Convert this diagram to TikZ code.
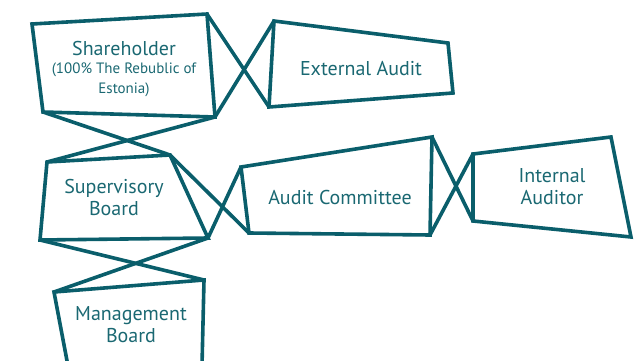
\documentclass[tikz,border=0pt]{standalone}
\usepackage{fontspec}
\setmainfont{PT Sans}
\definecolor{teal}{RGB}{10,94,107}
\definecolor{tealtext}{RGB}{26,104,114}

\begin{document}
\begin{tikzpicture}[x=1pt, y=-1pt,
  box/.style={draw=teal, line width=3.6pt, line join=miter},
  link/.style={draw=teal, line width=3.6pt},
  label/.style={text=tealtext, align=center, font=\fontsize{20}{22}\selectfont},
  note/.style={font=\fontsize{15}{20}\selectfont}]

\useasboundingbox (0,0) rectangle (637,361);
\clip (0,0) rectangle (637,361);

\coordinate (sh1) at (32,24);
\coordinate (sh2) at (207,14);
\coordinate (sh3) at (215,117);
\coordinate (sh4) at (43,112);
\coordinate (ea1) at (274,21);
\coordinate (ea2) at (448,43);
\coordinate (ea3) at (453,93);
\coordinate (ea4) at (269,107);
\coordinate (sb1) at (47,162);
\coordinate (sb2) at (170,155);
\coordinate (sb3) at (208,238);
\coordinate (sb4) at (40,240);
\coordinate (ac1) at (241,167);
\coordinate (ac2) at (432,137);
\coordinate (ac3) at (430,235);
\coordinate (ac4) at (249,233);
\coordinate (ia1) at (473,154);
\coordinate (ia2) at (611,137);
\coordinate (ia3) at (631,237);
\coordinate (ia4) at (473,221);
\coordinate (mb1) at (54,292);
\coordinate (mb2) at (204,280);
\coordinate (mb3) at (202,366);
\coordinate (mb4) at (68,366);

\draw[box] (sh1) -- (sh2) -- (sh3) -- (sh4) -- cycle;
\draw[box] (ea1) -- (ea2) -- (ea3) -- (ea4) -- cycle;
\draw[box] (sb1) -- (sb2) -- (sb3) -- (sb4) -- cycle;
\draw[box] (ac1) -- (ac2) -- (ac3) -- (ac4) -- cycle;
\draw[box] (ia1) -- (ia2) -- (ia3) -- (ia4) -- cycle;
\draw[box] (mb1) -- (mb2) -- (mb3) -- (mb4) -- cycle;

\draw[link] (sh2) -- (ea4);
\draw[link] (sh3) -- (ea1);
\draw[link] (sh4) -- (sb2);
\draw[link] (sh3) -- (sb1);
\draw[link] (sb2) -- (ac4);
\draw[link] (sb3) -- (ac1);
\draw[link] (sb4) -- (mb2);
\draw[link] (sb3) -- (mb1);
\draw[link] (ac2) -- (ia4);
\draw[link] (ac3) -- (ia1);

\node[label] (sh) at (124,49) {Shareholder};
\node[label, note] (shnote) at (124,80) {(100\% The Rebublic of\\Estonia)};
\node[label] (ea) at (361,69) {External Audit};
\node[label] (sb) at (114,197) {Supervisory\\Board};
\node[label] (ac) at (340,197) {Audit Committee};
\node[label] (ia) at (552,187) {Internal\\Auditor};
\node[label] (mb) at (131,325) {Management\\Board};

\end{tikzpicture}
\end{document}
